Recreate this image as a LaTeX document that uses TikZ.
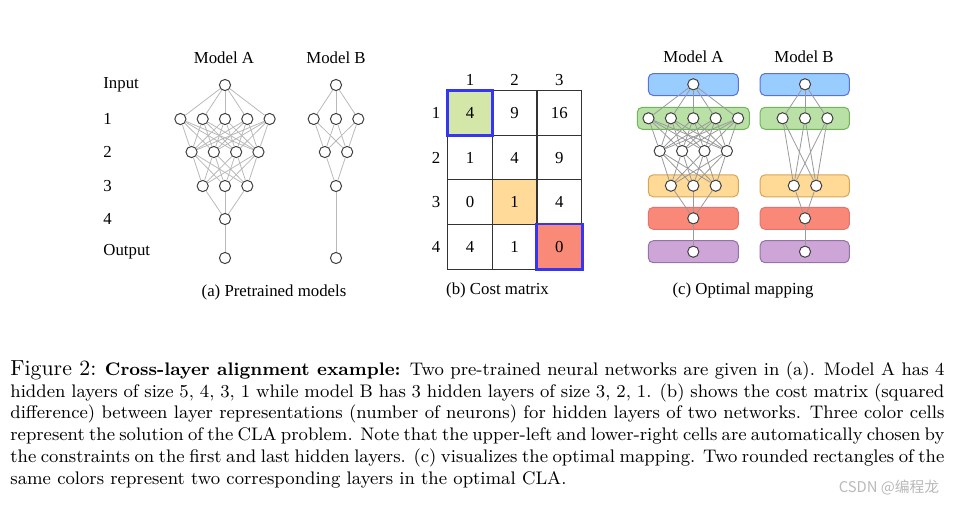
\documentclass[tikz,border=0pt]{standalone}
\usepackage{fontspec}
\newfontfamily\timesfont{Liberation Serif}
\newfontfamily\cjkfont{Noto Sans CJK SC}

\definecolor{inblue}{HTML}{99CCFF}
\definecolor{inblueline}{HTML}{5A6FE0}
\definecolor{hgreen}{HTML}{B9E0A5}
\definecolor{hgreenline}{HTML}{6FB65A}
\definecolor{horange}{HTML}{FFD996}
\definecolor{horangeline}{HTML}{D6A656}
\definecolor{hred}{HTML}{F98878}
\definecolor{hredline}{HTML}{E8736A}
\definecolor{outpurple}{HTML}{CDA5D6}
\definecolor{outpurpleline}{HTML}{9673A6}
\definecolor{cgreen}{HTML}{D4E7A8}
\definecolor{corange}{HTML}{FFDA98}
\definecolor{cred}{HTML}{FA8A78}
\definecolor{pickblue}{HTML}{3535F5}

\begin{document}
\begin{tikzpicture}[x=0.5pt,y=-0.5pt,
    every node/.style={font=\timesfont\fontsize{8.4}{10}\selectfont},
    neuron/.style={draw=black!75, fill=white, circle, inner sep=0pt, minimum size=5.6pt, line width=0.5pt},
    link/.style={gray!55, line width=0.4pt},
    maplink/.style={gray!80, line width=0.4pt},
    cell/.style={draw=black!80, line width=0.5pt, minimum width=22.3pt, minimum height=22.3pt, inner sep=0pt},
    pick/.style={draw=pickblue, line width=1.4pt},
    layerbox/.style={rounded corners=2.5pt, line width=0.5pt, minimum height=11pt, inner sep=0pt}]

  \useasboundingbox (0,0) rectangle (954,505);

  % (a) pretrained models
  \node (titleA) at (224,58) {Model A};
  \node (titleB) at (336,58) {Model B};
  \foreach \t/\y in {Input/85,1/119,2/152,3/186,4/219,Output/252}
    \node[anchor=west, inner sep=0pt] (row\y) at (103,\y) {\t};

  % Model A, layer by layer
  \foreach \l/\n/\y in {0/1/85,1/5/119,2/4/152,3/3/186,4/1/219,5/1/258} {
    \foreach \i in {1,...,\n} {
      \pgfmathsetmacro\x{225+(\i-(\n+1)/2)*22.3}
      \node[neuron] (pA\l-\i) at (\x,\y) {};
    }
  }
  % Model B
  \foreach \l/\n/\y in {0/1/85,1/3/119,2/2/152,3/1/186,5/1/258} {
    \foreach \i in {1,...,\n} {
      \pgfmathsetmacro\x{336+(\i-(\n+1)/2)*22.3}
      \node[neuron] (pB\l-\i) at (\x,\y) {};
    }
  }
  \foreach \l/\n/\k/\m in {0/1/1/5,1/5/2/4,2/4/3/3,3/3/4/1,4/1/5/1}
    \foreach \i in {1,...,\n}
      \foreach \j in {1,...,\m}
        \draw[link] (pA\l-\i) -- (pA\k-\j);
  \foreach \l/\n/\k/\m in {0/1/1/3,1/3/2/2,2/2/3/1,3/1/5/1}
    \foreach \i in {1,...,\n}
      \foreach \j in {1,...,\m}
        \draw[link] (pB\l-\i) -- (pB\k-\j);

  \node (capA) at (274,292) {(a) Pretrained models};

  % (b) cost matrix
  \foreach \r/\y/\vals in {1/113/{4/cgreen,9/white,16/white},
                           2/157.7/{1/white,4/white,9/white},
                           3/202.2/{0/white,1/corange,4/white},
                           4/246.7/{4/white,1/white,0/cred}} {
    \node (rowc\r) at (436,\y) {\r};
    \foreach \v/\f [count=\c] in \vals {
      \pgfmathsetmacro\x{470+(\c-1)*44.65}
      \node[cell, fill=\f] (c\r\c) at (\x,\y) {\v};
    }
  }
  \foreach \c in {1,2,3}
    \node (colc\c) at (c1\c |- 0,80) {\c};
  \draw[pick] (c11.north west) rectangle (c11.south east);
  \draw[pick] (c43.north west) rectangle (c43.south east);

  \node (capB) at (497.5,290) {(b) Cost matrix};

  % (c) optimal mapping
  \node (mapA) at (693.5,57) {Model A};
  \node (mapB) at (804,57) {Model B};

  % Rounded boxes of matched layers
  \foreach \k/\y/\w/\col in {0/84.5/90/inblue,1/118.3/112/hgreen,3/185.8/90/horange,4/218.3/90/hred,5/251.7/90/outpurple}
    \node[layerbox, minimum width=\w*0.5pt, fill=\col, draw=\col line] (boxA\k) at (693.3,\y) {};
  \foreach \k/\y/\col in {0/84.5/inblue,1/118.3/hgreen,2/185.8/horange,3/218.3/hred,5/251.7/outpurple}
    \node[layerbox, minimum width=44.6pt, fill=\col, draw=\col line] (boxB\k) at (804.7,\y) {};

  \foreach \l/\n/\y in {0/1/84.3,1/5/118.3,2/4/151,3/3/185.7,4/1/218.3,5/1/251.7} {
    \foreach \i in {1,...,\n} {
      \pgfmathsetmacro\x{693.3+(\i-(\n+1)/2)*22.4}
      \node[neuron] (mA\l-\i) at (\x,\y) {};
    }
  }
  \foreach \l/\n/\y in {0/1/84.3,1/3/118.3,2/2/185.7,3/1/218.3,5/1/251.7} {
    \foreach \i in {1,...,\n} {
      \pgfmathsetmacro\x{805+(\i-(\n+1)/2)*22.4}
      \node[neuron] (mB\l-\i) at (\x,\y) {};
    }
  }
  \foreach \l/\n/\k/\m in {0/1/1/5,1/5/2/4,2/4/3/3,3/3/4/1,4/1/5/1}
    \foreach \i in {1,...,\n}
      \foreach \j in {1,...,\m}
        \draw[maplink] (mA\l-\i) -- (mA\k-\j);
  \foreach \l/\n/\k/\m in {0/1/1/3,1/3/2/2,2/2/3/1,3/1/5/1}
    \foreach \i in {1,...,\n}
      \foreach \j in {1,...,\m}
        \draw[maplink] (mB\l-\i) -- (mB\k-\j);

  \node (capC) at (743,290) {(c) Optimal mapping};

  % Caption
  \node[anchor=north west, text width=467pt, inner sep=0pt, align=justify,
        font=\rmfamily\fontsize{9.1}{10.9}\selectfont] (caption) at (10,360)
    {\hyphenpenalty=10000\tolerance=9999\emergencystretch=20pt
     {\fontsize{10.9}{10.9}\selectfont Figure 2:} \textbf{Cross-layer alignment example:}\enspace
     Two pre-trained neural networks are given in (a). Model A has 4\linebreak
     hidden layers of size 5, 4, 3, 1 while model B has 3 hidden layers of size 3, 2, 1. (b) shows the cost matrix (squared\linebreak
     difference) between layer representations (number of neurons) for hidden layers of two networks. Three color cells\linebreak
     represent the solution of the CLA problem. Note that the upper-left and lower-right cells are automatically chosen by\linebreak
     the constraints on the first and last hidden layers. (c) visualizes the optimal mapping. Two rounded rectangles of the\linebreak
     same colors represent two corresponding layers in the optimal CLA.};

  \node[font=\cjkfont\fontsize{7.4}{8}\selectfont, text=gray!55] (mark) at (889,488) {CSDN @编程龙};

\end{tikzpicture}
\end{document}
